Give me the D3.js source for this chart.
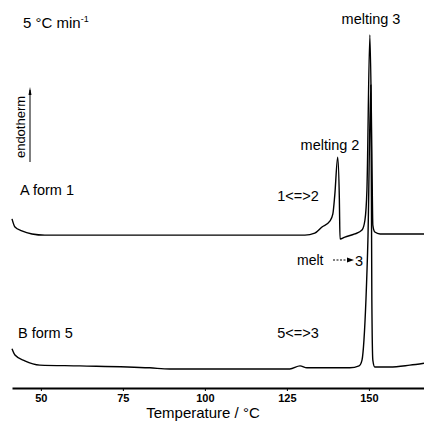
<!DOCTYPE html>
<html>
<head>
<meta charset="utf-8">
<script src="https://cdn.jsdelivr.net/npm/d3@7"></script>
<style>
    body { margin: 0; background: #fff; }
    svg { display: block; font-family: "Liberation Sans", Arial, sans-serif; }
</style>
</head>
<body>
<div id="chart"></div>
<script>
// DSC traces, temperature in C, signal in arbitrary units (curves stacked)
const tempA = [41.2, 42.1, 44.2, 47.3, 51.2, 90, 130.5, 133.5, 135.7, 138.1, 139.0, 139.6, 140.5, 141.0, 141.2, 142.7, 145.7, 147.9, 148.8, 149.4, 150.3, 150.9, 151.2, 151.8, 153.4, 166.8];
const signalA = [43.6, 41.5, 40.5, 39.7, 39.4, 39.4, 39.4, 39.9, 41.5, 43.0, 44.8, 49.7, 59.5, 48.5, 38.4, 38.9, 39.7, 40.7, 43.3, 51.0, 91.0, 61.3, 42.0, 40.2, 39.7, 39.7];

const tempB = [41.2, 42.1, 45.1, 49.7, 61.9, 83.2, 89.3, 125.9, 129.0, 131.1, 144.2, 147.0, 147.9, 148.5, 149.1, 149.7, 150.6, 150.9, 151.2, 151.8, 156.4, 162.5, 166.8];
const signalB = [10.1, 8.5, 7.0, 5.9, 5.7, 5.2, 4.9, 4.9, 5.7, 5.2, 5.2, 5.7, 7.2, 12.4, 22.7, 38.1, 78.1, 22.7, 7.2, 5.4, 5.4, 5.9, 6.4];

const xTicks = [50, 75, 100, 125, 150];

const width = 424, height = 424;

const svg = d3.select("#chart")
    .append("svg")
    .attr("width", width)
    .attr("height", height);

const x = d3.scaleLinear()
    .domain([41.2, 166.8])
    .range([12, 424]);

const y = d3.scaleLinear()
    .domain([0, 100])
    .range([388, 0]);

const line = d3.line()
    .curve(d3.curveMonotoneX)
    .x(d => x(d[0]))
    .y(d => y(d[1]));

const seriesA = tempA.map((t, i) => [t, signalA[i]]);
const seriesB = tempB.map((t, i) => [t, signalB[i]]);

[seriesA, seriesB].forEach(s => {
    svg.append("path")
        .datum(s)
        .attr("d", line)
        .attr("fill", "none")
        .attr("stroke", "#000")
        .attr("stroke-width", 1.4)
        .attr("stroke-linejoin", "round");
});

// x axis
const xAxis = svg.append("g")
    .attr("transform", "translate(0,388)")
    .call(d3.axisBottom(x).tickValues(xTicks).tickSize(3).tickSizeOuter(0).tickPadding(3));
xAxis.select(".domain").attr("stroke-width", 1.8);
xAxis.selectAll("text")
    .attr("font-size", 11)
    .attr("font-weight", "bold")
    .attr("font-family", "'Liberation Sans', Arial, sans-serif");

svg.append("text")
    .attr("x", 203).attr("y", 418)
    .attr("text-anchor", "middle")
    .attr("font-size", 15)
    .text("Temperature / °C");

// rate label
const rate = svg.append("text")
    .attr("x", 23).attr("y", 28)
    .attr("font-size", 15);
rate.append("tspan").text("5 °C min");
rate.append("tspan").attr("dy", -6).attr("font-size", 9).text("-1");

// endotherm arrow
svg.append("line")
    .attr("x1", 30).attr("x2", 30)
    .attr("y1", 162).attr("y2", 90)
    .attr("stroke", "#000").attr("stroke-width", 1);
svg.append("path")
    .attr("d", "M28.5,95 L30,87 L31.5,95 Z")
    .attr("fill", "#000");
svg.append("text")
    .attr("transform", "translate(25,127) rotate(-90)")
    .attr("text-anchor", "middle")
    .attr("font-size", 13)
    .text("endotherm");

// annotations
const labels = [
    { text: "A form 1", x: 20, y: 195, anchor: "start" },
    { text: "B form 5", x: 18, y: 338, anchor: "start" },
    { text: "melting 3", x: 371, y: 24, anchor: "middle" },
    { text: "melting 2", x: 330, y: 150, anchor: "middle" },
    { text: "1<=>2", x: 298, y: 201, anchor: "middle" },
    { text: "5<=>3", x: 298, y: 338, anchor: "middle" }
];
svg.selectAll(".lbl")
    .data(labels)
    .enter()
    .append("text")
    .attr("class", "lbl")
    .attr("x", d => d.x)
    .attr("y", d => d.y)
    .attr("text-anchor", d => d.anchor)
    .attr("font-size", 14.5)
    .text(d => d.text);

svg.append("text")
    .attr("x", 297).attr("y", 265)
    .attr("font-size", 14)
    .text("melt");
svg.append("line")
    .attr("x1", 333).attr("x2", 350)
    .attr("y1", 260).attr("y2", 260)
    .attr("stroke", "#000").attr("stroke-width", 1)
    .attr("stroke-dasharray", "2,1.5");
svg.append("path")
    .attr("d", "M347,257.5 L354,260 L347,262.5 Z")
    .attr("fill", "#000");
svg.append("text")
    .attr("x", 355).attr("y", 266)
    .attr("font-size", 14.5)
    .text("3");
</script>
</body>
</html>
